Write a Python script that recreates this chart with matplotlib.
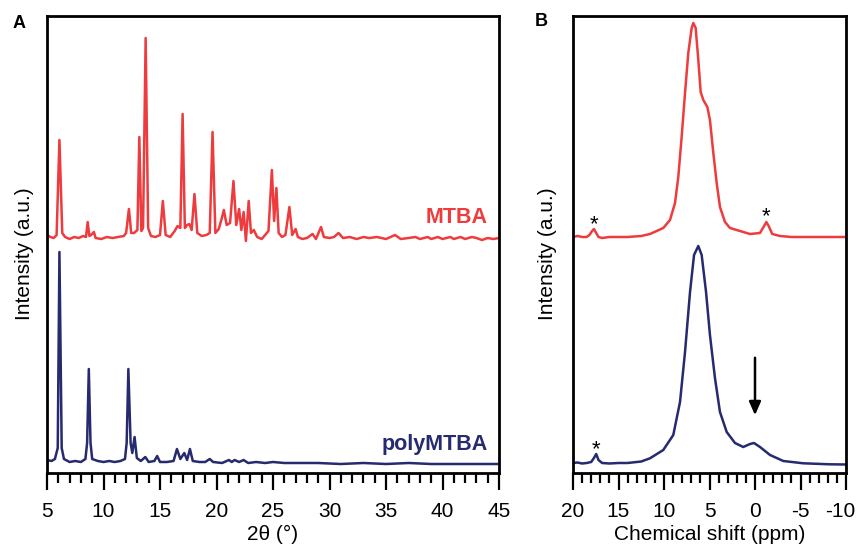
import matplotlib
matplotlib.use("Agg")
import matplotlib.pyplot as plt
import matplotlib.transforms as mtransforms
from matplotlib.ticker import MultipleLocator

plt.rcParams['font.family'] = ['Liberation Sans', 'DejaVu Sans']
plt.rcParams['axes.unicode_minus'] = False

RED = '#ee3b3d'
NAVY = '#262a6e'

# ---- panel A: XRD (2theta, intensity a.u.) ----
mtba_2theta = [5.0, 5.3, 5.6, 5.85, 6.1, 6.35, 6.6, 7.0, 7.4, 7.8, 8.2, 8.45, 8.6, 8.75, 8.9,
               9.15, 9.3, 9.8, 10.3, 10.8, 11.3, 11.8, 12.0, 12.25, 12.45, 12.7, 13.0, 13.17,
               13.35, 13.5, 13.73, 13.95, 14.2, 14.6, 15.0, 15.25, 15.5, 15.9, 16.3, 16.55,
               16.8, 17.0, 17.2, 17.4, 17.6, 17.8, 18.05, 18.3, 18.7, 19.1, 19.4, 19.65, 19.9,
               20.2, 20.45, 20.65, 20.9, 21.2, 21.5, 21.75, 22.0, 22.2, 22.4, 22.6, 22.85,
               23.05, 23.3, 23.6, 24.0, 24.3, 24.6, 24.9, 25.1, 25.3, 25.5, 25.8, 26.1, 26.45,
               26.7, 27.0, 27.2, 27.6, 28.0, 28.5, 28.8, 29.25, 29.5, 30.0, 30.4, 30.8, 31.2,
               31.8, 32.4, 33.0, 33.5, 34.2, 35.0, 35.8, 36.3, 37.0, 37.6, 38.0, 38.7, 39.0,
               39.6, 40.0, 40.7, 41.0, 41.6, 42.0, 42.6, 43.0, 43.5, 44.0, 44.5, 45.0]
mtba_int = [238, 236, 235, 238, 333, 240, 236, 234, 236, 235, 237, 236, 251, 237, 238,
            241, 235, 234, 236, 235, 236, 237, 240, 264, 240, 240, 243, 336,
            242, 245, 435, 245, 237, 236, 238, 272, 238, 236, 242, 247,
            245, 359, 245, 248, 249, 243, 279, 240, 237, 238, 240, 341, 240,
            244, 254, 263, 248, 250, 292, 248, 264, 243, 261, 232, 272,
            240, 243, 236, 234, 238, 242, 303, 252, 285, 240, 236, 238, 266,
            238, 244, 236, 234, 235, 239, 234, 246, 236, 235, 236, 240, 235,
            236, 234, 236, 235, 236, 234, 238, 234, 235, 236, 234, 236, 234,
            236, 234, 236, 234, 236, 234, 236, 235, 233, 235, 234, 235]

poly_2theta = [5.0, 5.4, 5.7, 5.95, 6.1, 6.3, 6.5, 7.0, 7.5, 8.0, 8.4, 8.55, 8.7, 8.85, 9.0,
               9.5, 10.0, 10.5, 11.0, 11.5, 11.9, 12.05, 12.2, 12.4, 12.55, 12.75, 12.95,
               13.3, 13.7, 14.0, 14.5, 14.75, 15.0, 15.6, 16.2, 16.5, 16.8, 17.15, 17.4,
               17.65, 17.9, 18.5, 19.0, 19.4, 19.7, 20.5, 21.1, 21.35, 21.6, 22.0, 22.4,
               22.8, 23.5, 24.3, 25.0, 26.0, 27.5, 29.0, 31.0, 33.0, 35.0, 37.0, 39.0,
               41.0, 43.0, 45.0]
poly_int = [13, 12, 14, 25, 221, 25, 14, 11, 12, 11, 14, 30, 104, 30, 14,
            12, 11, 12, 11, 12, 14, 30, 104, 30, 20, 36, 15,
            12, 16, 11, 12, 17, 11, 11, 12, 24, 14, 20, 13,
            24, 12, 11, 11, 14, 11, 10, 13, 11, 13, 11, 13,
            10, 11, 10, 11, 10, 10, 10, 9, 10, 9, 10, 9,
            9, 9, 9]

# ---- panel B: NMR (chemical shift ppm, intensity a.u.) ----
mtba_ppm = [20.0, 19.5, 19.0, 18.5, 18.2, 17.9, 17.7, 17.45, 17.2, 16.8, 16.0, 15.0, 14.0,
            12.5, 11.54, 10.08, 9.34, 8.79, 8.43, 8.06, 7.69, 7.33, 6.96, 6.78, 6.52, 6.23,
            5.97, 5.68, 5.24, 4.95, 4.58, 4.21, 3.85, 3.30, 2.75, 1.65, 0.55, -0.55, -1.0,
            -1.25, -1.5, -1.9, -2.75, -4.0, -6.0, -8.0, -10.0]
mtba_nmr = [236, 237, 236, 236, 238, 242, 244, 240, 236, 235, 236, 236, 236,
            237, 239, 245, 253, 270, 296, 336, 380, 420, 445, 450, 445, 413,
            381, 373, 366, 353, 320, 290, 266, 251, 245, 242, 239, 240, 247,
            251, 247, 239, 237, 236, 236, 236, 236]

poly_ppm = [20.0, 19.5, 19.0, 18.5, 18.0, 17.7, 17.45, 17.2, 16.8, 16.0, 15.0, 14.0, 12.5,
            11.54, 10.08, 8.98, 8.24, 7.69, 7.14, 6.70, 6.23, 5.86, 5.38, 4.95, 4.40, 3.85,
            3.11, 2.20, 1.29, 0.55, 0.11, -0.55, -1.65, -3.11, -5.31, -8.24, -10.0]
poly_nmr = [10, 10.5, 9.5, 10, 11, 15, 19, 13, 10, 9.5, 10, 10, 11.5,
            14.7, 23, 38, 71, 121, 181, 218, 227, 218, 181, 138, 95, 61,
            41, 30, 26, 29, 30, 26, 18, 12, 9.7, 8.7, 8.5]

fig = plt.figure(figsize=(8.58, 5.51), dpi=100)
axA = fig.add_axes([47 / 858, 78 / 551, 452 / 858, 457 / 551])
axB = fig.add_axes([573 / 858, 78 / 551, 273 / 858, 457 / 551])

axA.plot(mtba_2theta, mtba_int, color=RED, lw=1.8)
axA.plot(poly_2theta, poly_int, color=NAVY, lw=1.8)
axA.set_xlim(5, 45)
axA.xaxis.set_major_locator(MultipleLocator(5))
axA.xaxis.set_minor_locator(MultipleLocator(1))
axA.text(44.0, 250, 'MTBA', color=RED, fontsize=15.5, fontweight='bold', ha='right', va='baseline')
axA.text(44.0, 23, 'polyMTBA', color=NAVY, fontsize=15.5, fontweight='bold', ha='right', va='baseline')
axA.set_xlabel('2θ (°)', fontsize=15, labelpad=3)

axB.plot(mtba_ppm, mtba_nmr, color=RED, lw=1.8)
axB.plot(poly_ppm, poly_nmr, color=NAVY, lw=1.8)
axB.set_xlim(20, -10)
axB.xaxis.set_major_locator(MultipleLocator(5))
axB.xaxis.set_minor_locator(MultipleLocator(1))
axB.text(17.7, 243, '*', fontsize=16, ha='center', va='baseline')
axB.text(-1.2, 251, '*', fontsize=16, ha='center', va='baseline')
axB.text(17.45, 18, '*', fontsize=16, ha='center', va='baseline')
axB.annotate('', xy=(0, 55), xytext=(0, 118),
             arrowprops=dict(arrowstyle='-|>,head_width=0.35,head_length=0.8', color='black', lw=1.8))
axB.set_xlabel('Chemical shift (ppm)', fontsize=15, labelpad=3)

for ax, lx in ((axA, -0.029), (axB, -0.059)):
    ax.set_ylim(0, 457)
    ax.set_yticks([])
    ax.set_ylabel('Intensity (a.u.)', fontsize=15)
    ax.yaxis.set_label_coords(lx, 0.48)
    for s in ax.spines.values():
        s.set_linewidth(2.0)
    ax.tick_params(axis='x', which='major', direction='out', length=12, width=1.6, labelsize=15, pad=9)
    ax.tick_params(axis='x', which='minor', direction='out', length=7, width=1.6)

# nudge the "-10" label left so it stays inside the figure, as in the original
fig.canvas.draw()
for lab in axB.get_xticklabels():
    if lab.get_text() == '-10':
        lab.set_transform(lab.get_transform() +
                          mtransforms.ScaledTranslation(-6 / 100, 0, fig.dpi_scale_trans))

fig.text(19 / 858, 1 - 23 / 551, 'A', fontsize=13, fontweight='bold', ha='center', va='center')
fig.text(541 / 858, 1 - 21 / 551, 'B', fontsize=13, fontweight='bold', ha='center', va='center')

fig.savefig('out.png', dpi=100)
